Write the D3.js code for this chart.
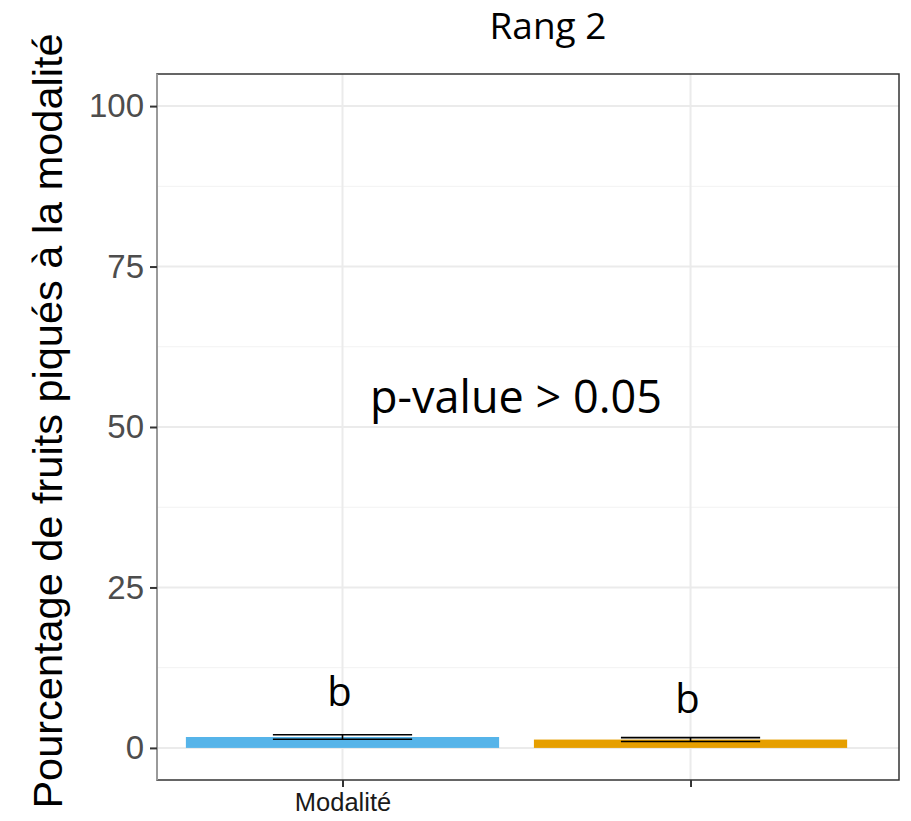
<!DOCTYPE html>
<html><head><meta charset="utf-8">
<script src="https://cdn.jsdelivr.net/npm/d3@7"></script>
<style>body{margin:0;background:#fff}</style>
</head><body>
<svg id="c" width="911" height="821"></svg>
<script>
const categories = ["Modalité", ""];
const means = [1.7, 1.3];
const errors = [0.35, 0.31];
const letters = ["b", "b"];
const letterPos = [6.5, 5.5];
const colors = ["#56B4E9", "#E69F00"];
const yTicks = [0, 25, 50, 75, 100];
const yMinor = [12.5, 37.5, 62.5, 87.5];
const title = "Rang 2";
const yLabel = "Pourcentage de fruits piqués à la modalité";
const annotation = "p-value > 0.05";

const svg = d3.select("#c");
const L = 157, R = 899, T = 74, B = 780;
const y = d3.scaleLinear().domain([-5, 105]).range([B, T]);
const x = d3.scaleLinear().domain([0.467, 2.599]).range([L, R]);
const idx = categories.map((d, i) => i + 1);
const barW = x(1.9) - x(1);

// grid
svg.append("g").selectAll("line").data(yMinor).join("line")
  .attr("x1", L).attr("x2", R).attr("y1", d => y(d)).attr("y2", d => y(d))
  .attr("stroke", "#F2F2F2").attr("stroke-width", 1);
svg.append("g").selectAll("line").data(yTicks).join("line")
  .attr("x1", L).attr("x2", R).attr("y1", d => y(d)).attr("y2", d => y(d))
  .attr("stroke", "#EBEBEB").attr("stroke-width", 2);
svg.append("g").selectAll("line").data(idx).join("line")
  .attr("x1", d => x(d)).attr("x2", d => x(d)).attr("y1", T).attr("y2", B)
  .attr("stroke", "#EBEBEB").attr("stroke-width", 2);

// bars
svg.append("g").selectAll("rect").data(means).join("rect")
  .attr("x", (d, i) => x(i + 1) - barW / 2)
  .attr("width", barW)
  .attr("y", d => y(d))
  .attr("height", d => y(0) - y(d))
  .attr("fill", (d, i) => colors[i]);

// error bars
const ew = x(1.2) - x(1);
const eg = svg.append("g").attr("stroke", "#000").attr("stroke-width", 1.6);
means.forEach((m, i) => {
  const cx = x(i + 1);
  eg.append("line").attr("x1", cx - ew).attr("x2", cx + ew).attr("y1", y(m + errors[i])).attr("y2", y(m + errors[i]));
  eg.append("line").attr("x1", cx - ew).attr("x2", cx + ew).attr("y1", y(m - errors[i])).attr("y2", y(m - errors[i]));
  eg.append("line").attr("x1", cx).attr("x2", cx).attr("y1", y(m + errors[i])).attr("y2", y(m - errors[i]));
});

// letters
svg.append("g").selectAll("text").data(letters).join("text")
  .attr("x", (d, i) => x(i + 1) - 3)
  .attr("y", (d, i) => y(letterPos[i]))
  .attr("text-anchor", "middle")
  .attr("font-family", "Open Sans, sans-serif")
  .attr("font-size", 40)
  .attr("fill", "#000")
  .text(d => d);

// annotation
svg.append("text").attr("x", 516).attr("y", 413).attr("text-anchor", "middle")
  .attr("font-family", "Open Sans, sans-serif").attr("font-size", 45)
  .attr("fill", "#000").text(annotation);

// panel border
svg.append("rect").attr("x", L).attr("y", T).attr("width", R - L).attr("height", B - T)
  .attr("fill", "none").attr("stroke", "#333").attr("stroke-width", 1.5);
svg.append("line").attr("x1", L).attr("x2", L).attr("y1", T).attr("y2", B)
  .attr("stroke", "#9A9A9A").attr("stroke-width", 2);

// y axis
const ya = d3.axisLeft(y).tickValues(yTicks).tickSize(7).tickPadding(6);
const yg = svg.append("g").attr("transform", `translate(${L},0)`).call(ya);
yg.select(".domain").remove();
yg.selectAll(".tick line").attr("stroke", "#333").attr("stroke-width", 2);
yg.selectAll(".tick text").attr("font-family", "Liberation Sans, Arial, sans-serif")
  .attr("font-size", 33).attr("fill", "#4D4D4D");

// x axis
const xa = d3.axisBottom(x).tickValues(idx).tickFormat((d) => categories[d - 1]).tickSize(7).tickPadding(6);
const xg = svg.append("g").attr("transform", `translate(0,${B})`).call(xa);
xg.select(".domain").remove();
xg.selectAll(".tick line").attr("stroke", "#333").attr("stroke-width", 2);
xg.selectAll(".tick text").attr("font-family", "Liberation Sans, Arial, sans-serif")
  .attr("font-size", 25.5).attr("fill", "#1a1a1a");

// title
svg.append("text").attr("x", 548).attr("y", 39).attr("text-anchor", "middle")
  .attr("font-family", "Open Sans, sans-serif").attr("font-size", 37)
  .attr("fill", "#000").text(title);

// y label
svg.append("text").attr("transform", "translate(62,421) rotate(-90)")
  .attr("text-anchor", "middle")
  .attr("font-family", "Liberation Sans, Arial, sans-serif").attr("font-size", 41.5)
  .attr("fill", "#000").text(yLabel);
</script>
</body></html>
